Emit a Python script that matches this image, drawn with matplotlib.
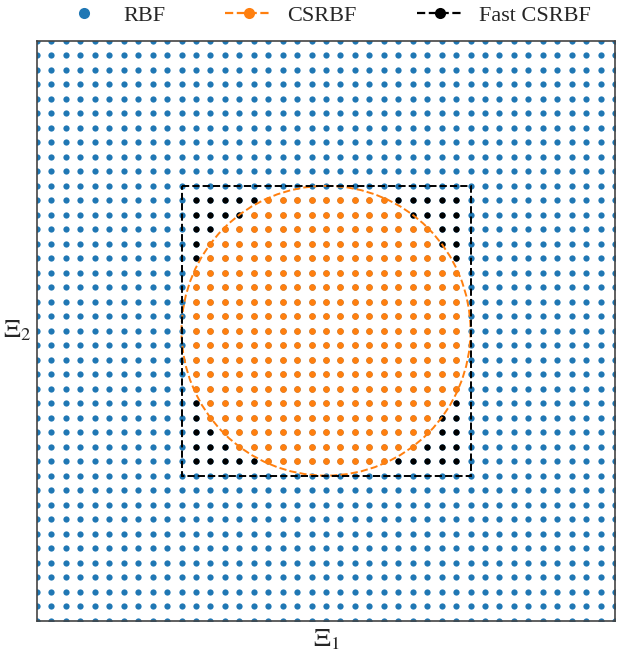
import numpy as np
import matplotlib
matplotlib.use('Agg')
import matplotlib.pyplot as plt
from matplotlib.patches import Circle, Rectangle
from matplotlib.lines import Line2D

plt.rcParams['font.family'] = ['Liberation Serif', 'DejaVu Serif']
plt.rcParams['mathtext.fontset'] = 'stix'
plt.rcParams['text.color'] = '#262626'
plt.rcParams['axes.labelcolor'] = '#262626'

# grid of nodes (index coordinates, 41 x 41)
grid_cols = list(range(41))
grid_rows = list(range(41))

# support box and circle of the CSRBF (in grid index units)
box_min, box_max = 10, 30
circle_center = (20, 20)
circle_radius = 10

# nodes lying exactly on the circle that are drawn as CSRBF
on_circle_inside = [(12, 14), (12, 26), (14, 28), (26, 28)]

legend_labels = ['RBF', 'CSRBF', 'Fast CSRBF']

blue = '#1f77b4'
orange = '#ff7f0e'

X, Y = np.meshgrid(grid_cols, grid_rows)
X = X.ravel()
Y = Y.ravel()

inside_box = (X > box_min) & (X < box_max) & (Y > box_min) & (Y < box_max)
d2 = (X - circle_center[0]) ** 2 + (Y - circle_center[1]) ** 2
inside_circle = d2 < circle_radius ** 2
for cx, cy in on_circle_inside:
    inside_circle |= (X == cx) & (Y == cy)
inside_circle &= inside_box
fast_only = inside_box & ~inside_circle

fig = plt.figure(figsize=(6.18, 6.52), dpi=100)
ax = fig.add_axes([37 / 618, 1 - 620.5 / 652, 578 / 618, 579.5 / 652])

ms = 4.5
ax.plot(X, Y, 'o', color=blue, ms=ms, mew=0)
ax.plot(X[inside_circle], Y[inside_circle], 'o', color=orange, ms=ms + 0.3, mew=0)
ax.plot(X[fast_only], Y[fast_only], 'o', color='black', ms=ms, mew=0)

ax.add_patch(Circle(circle_center, circle_radius, fill=False, ec=orange,
                    ls='--', lw=1.4, zorder=4))
ax.add_patch(Rectangle((box_min, box_min), box_max - box_min, box_max - box_min,
                       fill=False, ec='black', ls='--', lw=1.4, zorder=5))

ax.set_xlim(0, 40)
ax.set_ylim(40, 0)
ax.set_xticks([])
ax.set_yticks([])
for sp in ax.spines.values():
    sp.set_color('#444444')
    sp.set_linewidth(1.2)

ax.set_xlabel(r'$\Xi_1$', fontsize=19, labelpad=5)
ax.set_ylabel(r'$\Xi_2$', fontsize=19, rotation=0, labelpad=14, va='center')

handles = [
    Line2D([], [], ls='none', marker='o', color=blue, ms=8, mew=0),
    Line2D([], [], ls='--', lw=1.6, marker='o', color=orange, ms=8, mew=0),
    Line2D([], [], ls='--', lw=1.6, marker='o', color='black', ms=8, mew=0),
]
ax.legend(handles, legend_labels, loc='center', bbox_to_anchor=(0.5, 1 + 25 / 579.5),
          ncol=3, frameon=False, fontsize=16, handlelength=2.1, handletextpad=0.7,
          columnspacing=2.7, borderaxespad=0)

fig.savefig('out.png', dpi=100)
